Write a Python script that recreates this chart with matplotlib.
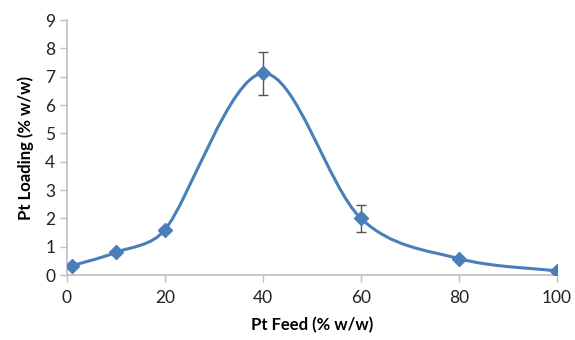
import numpy as np
import matplotlib
matplotlib.use("Agg")
import matplotlib.pyplot as plt
from matplotlib.path import Path
from matplotlib.patches import PathPatch

plt.rcParams['font.family'] = ['Lato', 'DejaVu Sans']

# data
pt_feed = [1, 10, 20, 40, 60, 80, 100]
pt_loading = [0.33, 0.8, 1.6, 7.12, 2.0, 0.58, 0.15]
loading_err = [0, 0, 0, 0.75, 0.47, 0, 0]

x_ticks = [0, 20, 40, 60, 80, 100]
y_ticks = list(range(0, 10))

blue = '#4a7ebb'

fig = plt.figure(figsize=(5.75, 3.4), dpi=100)
ax = fig.add_axes([0.1165, 0.191, 0.852, 0.75])
ax.set_xlim(0, 100)
ax.set_ylim(0, 9)

# smoothed line like Excel: catmull-rom bezier in screen space,
# handle length capped by the segment length to avoid wiggles
P = ax.transData.transform(np.column_stack([pt_feed, pt_loading]))
n = len(P)
tang = np.zeros_like(P)
for i in range(n):
    tang[i] = (P[min(i + 1, n - 1)] - P[max(i - 1, 0)]) / 6
verts = [P[0]]
codes = [Path.MOVETO]
for i in range(n - 1):
    seg = np.hypot(*(P[i + 1] - P[i])) * 0.4
    t0, t1 = tang[i], tang[i + 1]
    if np.hypot(*t0) > seg:
        t0 = t0 / np.hypot(*t0) * seg
    if np.hypot(*t1) > seg:
        t1 = t1 / np.hypot(*t1) * seg
    verts += [P[i] + t0, P[i + 1] - t1, P[i + 1]]
    codes += [Path.CURVE4] * 3
verts = ax.transData.inverted().transform(np.array(verts))
ax.add_patch(PathPatch(Path(verts, codes), facecolor='none', edgecolor=blue, lw=2.2, zorder=3))

ax.errorbar(pt_feed, pt_loading, yerr=loading_err, fmt='none', ecolor='#555555',
            elinewidth=1, capsize=3.5, capthick=1, zorder=2)
ax.plot(pt_feed, pt_loading, linestyle='none', marker='D', ms=7, color=blue, zorder=4)

ax.set_xticks(x_ticks)
ax.set_yticks(y_ticks)
ax.tick_params(axis='both', labelsize=12.5, colors='#bfbfbf', labelcolor='#222222', length=5, width=1)
ax.tick_params(axis='x', pad=6)
for s in ['top', 'right']:
    ax.spines[s].set_visible(False)
for s in ['left', 'bottom']:
    ax.spines[s].set_color('#bfbfbf')
    ax.spines[s].set_linewidth(1.2)

ax.set_xlabel('Pt Feed (% w/w)', fontsize=12, fontweight='bold', labelpad=8)
ax.set_ylabel('Pt Loading (% w/w)', fontsize=12, fontweight='bold', labelpad=8)

fig.savefig('out.png', dpi=100, facecolor='white')
